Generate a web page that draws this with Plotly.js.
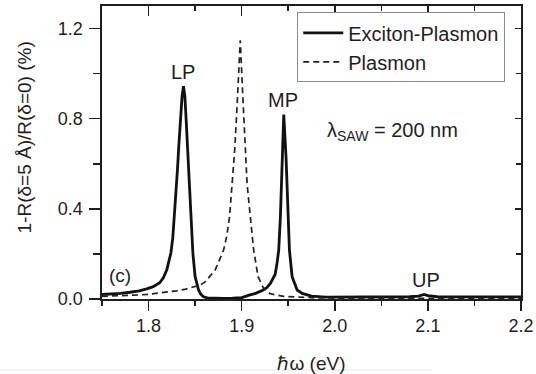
<!DOCTYPE html>
<html>
<head>
<meta charset="utf-8">
<script src="https://cdn.plot.ly/plotly-3.0.1.min.js"></script>
<style>html,body{margin:0;padding:0;background:#fff;}#chart{width:536px;height:374px;}</style>
</head>
<body>
<div id="chart"></div>
<script>
// Exciton-Plasmon (solid) curve
const epX = [1.750,1.760,1.770,1.780,1.790,1.798,1.805,1.812,1.816,1.8196,1.822,1.824,1.826,1.8275,1.829,1.831,1.8325,1.834,1.836,1.8375,1.839,1.8404,1.843,1.8455,1.8476,1.850,1.852,1.8537,1.856,1.859,1.863,1.870,1.880,1.890,1.900,1.909,1.915,1.922,1.927,1.931,1.934,1.936,1.938,1.9398,1.9416,1.9434,1.9452,1.9477,1.9495,1.9513,1.9542,1.9578,1.9596,1.965,1.975,1.990,2.020,2.050,2.080,2.090,2.096,2.100,2.110,2.150,2.200];
const epY = [0.020,0.022,0.025,0.030,0.036,0.045,0.055,0.072,0.095,0.130,0.165,0.204,0.270,0.350,0.450,0.572,0.680,0.793,0.900,0.944,0.900,0.793,0.572,0.350,0.204,0.099,0.060,0.040,0.022,0.010,0.005,0.003,0.003,0.004,0.006,0.018,0.025,0.038,0.050,0.070,0.092,0.110,0.160,0.217,0.365,0.624,0.818,0.624,0.365,0.217,0.099,0.062,0.040,0.025,0.013,0.008,0.008,0.009,0.010,0.013,0.020,0.015,0.010,0.009,0.009];
// Plasmon (dashed) curve
const plX = [1.750,1.770,1.790,1.800,1.810,1.8196,1.830,1.840,1.850,1.8556,1.861,1.8716,1.8806,1.884,1.887,1.890,1.8925,1.895,1.8965,1.8985,1.901,1.904,1.9058,1.9093,1.9129,1.9176,1.9236,1.930,1.936,1.945,1.960,1.980,2.000,2.100,2.200];
const plY = [0.012,0.014,0.018,0.021,0.025,0.030,0.036,0.044,0.055,0.062,0.077,0.129,0.217,0.280,0.365,0.513,0.660,0.850,0.960,1.148,0.919,0.660,0.513,0.365,0.217,0.099,0.047,0.025,0.018,0.012,0.008,0.005,0.004,0.002,0.002];
// Labels
const seriesNames = ["Exciton-Plasmon", "Plasmon"];
const peakLabels = ["LP", "MP", "UP"];
const peakLabelX = [1.837, 1.9448, 2.0977];
const peakLabelY = [1.0075, 0.882, 0.086];
const xTitle = "ℏω (eV)";
const yTitle = "1-R(δ=5 Å)/R(δ=0) (%)";
const panelLabel = "(c)";
const sawLabel = "λ<sub>SAW</sub> = 200 nm";

const ink = "#1e1e1e";
const fontFam = "Liberation Sans, Arial, sans-serif";

const traces = [
  {x: epX, y: epY, type: "scatter", mode: "lines", name: seriesNames[0],
   line: {color: "#111", width: 2.8}, hoverinfo: "skip"},
  {x: plX, y: plY, type: "scatter", mode: "lines", name: seriesNames[1],
   line: {color: "#222", width: 1.7, dash: "6px,4px"}, hoverinfo: "skip"},
  {x: [], y: [], xaxis: "x2", yaxis: "y2", type: "scatter", mode: "lines",
   showlegend: false, hoverinfo: "skip"}
];

const annotations = peakLabels.map((t, i) => ({
  x: peakLabelX[i], y: peakLabelY[i], xref: "x", yref: "y", text: t,
  showarrow: false, xanchor: "center", yanchor: "middle",
  font: {family: fontFam, size: 20, color: ink}
}));
annotations.push({x: 1.769, y: 0.106, xref: "x", yref: "y", text: panelLabel,
  showarrow: false, xanchor: "center", yanchor: "middle",
  font: {family: fontFam, size: 19, color: ink}});
annotations.push({x: 1.99, y: 0.742, xref: "x", yref: "y", text: sawLabel,
  showarrow: false, xanchor: "left", yanchor: "middle",
  font: {family: fontFam, size: 20, color: ink}});
// y-axis title placed as rotated text where the reference shows it
annotations.push({x: -0.184, y: 0.551, xref: "paper", yref: "paper", text: yTitle,
  showarrow: false, textangle: -90, xanchor: "center", yanchor: "middle",
  font: {family: fontFam, size: 19, color: ink}});

const layout = {
  width: 536, height: 374,
  margin: {l: 102, r: 15.3, t: 6, b: 75, pad: 0},
  paper_bgcolor: "#fff", plot_bgcolor: "#fff",
  font: {family: fontFam, size: 18, color: ink},
  showlegend: true,
  legend: {x: 0.466, y: 0.978, xanchor: "left", yanchor: "top",
    bgcolor: "rgba(255,255,255,1)", bordercolor: "#8a8a8a", borderwidth: 1,
    font: {family: fontFam, size: 20, color: ink}, itemwidth: 40,
    tracegroupgap: 0},
  xaxis: {range: [1.75, 2.2], tickmode: "linear", tick0: 1.8, dtick: 0.1,
    tickformat: ".1f", ticks: "outside", ticklen: 10, tickwidth: 1.6, tickcolor: ink,
    minor: {dtick: 0.05, tick0: 1.75, ticks: "outside", ticklen: 5, tickwidth: 1.6, tickcolor: ink, showgrid: false},
    showline: true, linewidth: 1.6, linecolor: ink, mirror: true,
    showgrid: false, zeroline: false,
    tickfont: {family: fontFam, size: 18, color: ink},
    title: {text: xTitle, standoff: 22, font: {family: fontFam, size: 19, color: ink}}},
  yaxis: {range: [0, 1.3], tickmode: "linear", tick0: 0, dtick: 0.4,
    tickformat: ".1f", ticks: "outside", ticklen: 11, tickwidth: 1.6, tickcolor: ink,
    ticklabelstandoff: 3,
    minor: {dtick: 0.2, tick0: 0, ticks: "outside", ticklen: 7, tickwidth: 1.6, tickcolor: ink, showgrid: false},
    showline: true, linewidth: 1.6, linecolor: ink, mirror: true,
    showgrid: false, zeroline: false,
    tickfont: {family: fontFam, size: 18, color: ink}},
  xaxis2: {overlaying: "x", matches: "x", side: "top", anchor: "y",
    tickmode: "linear", tick0: 1.8, dtick: 0.1, ticks: "inside", ticklen: 10, tickwidth: 1.6, tickcolor: ink,
    minor: {dtick: 0.05, tick0: 1.75, ticks: "inside", ticklen: 5, tickwidth: 1.6, tickcolor: ink},
    showticklabels: false, showline: false, showgrid: false, zeroline: false},
  yaxis2: {overlaying: "y", matches: "y", side: "right", anchor: "x",
    tickmode: "linear", tick0: 0, dtick: 0.4, ticks: "inside", ticklen: 6, tickwidth: 1.6, tickcolor: ink,
    minor: {dtick: 0.2, tick0: 0, ticks: "inside", ticklen: 5, tickwidth: 1.6, tickcolor: ink},
    showticklabels: false, showline: false, showgrid: false, zeroline: false},
  annotations: annotations,
  shapes: [{type: "line", xref: "paper", yref: "paper", x0: -0.2436, x1: 0.788,
    y0: -0.2423, y1: -0.2423, line: {color: "#e6e6e6", width: 1}}]
};

Plotly.newPlot("chart", traces, layout, {staticPlot: true, displayModeBar: false});
</script>
</body>
</html>
